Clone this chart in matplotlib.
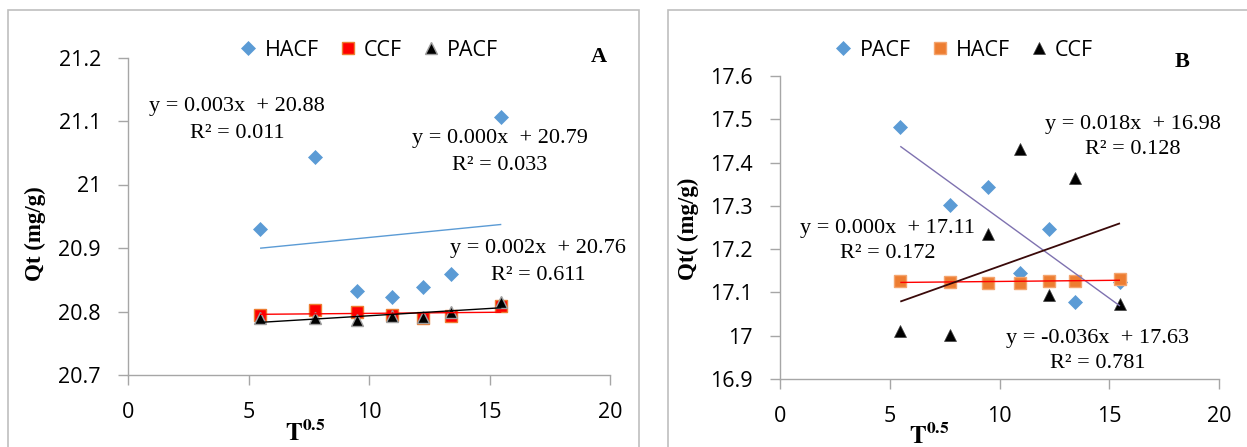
import numpy as np
import matplotlib
matplotlib.use("Agg")
import matplotlib.pyplot as plt
from matplotlib.patches import Rectangle

plt.rcParams['mathtext.fontset'] = 'stix'

# ---------------- data ----------------
x_vals = [5.48, 7.75, 9.49, 10.95, 12.25, 13.42, 15.49]

# Panel A
a_hacf = [20.930, 21.044, 20.833, 20.823, 20.839, 20.859, 21.106]
a_ccf = [20.794, 20.803, 20.800, 20.794, 20.789, 20.793, 20.808]
a_pacf = [20.789, 20.789, 20.787, 20.793, 20.791, 20.800, 20.815]

# Panel B
b_pacf = [17.483, 17.301, 17.343, 17.145, 17.246, 17.078, 17.123]
b_hacf = [17.127, 17.125, 17.121, 17.121, 17.127, 17.127, 17.132]
b_ccf = [17.010, 17.002, 17.235, 17.432, 17.093, 17.365, 17.074]

a_yticks = [20.7, 20.8, 20.9, 21.0, 21.1, 21.2]
a_yticklabels = ["20.7", "20.8", "20.9", "21", "21.1", "21.2"]
b_yticks = [16.9, 17.0, 17.1, 17.2, 17.3, 17.4, 17.5, 17.6]
b_yticklabels = ["16.9", "17", "17.1", "17.2", "17.3", "17.4", "17.5", "17.6"]
xticks = [0, 5, 10, 15, 20]

a_eqs = [("y = 0.003x  + 20.88\nR\u00b2 = 0.011", 237, 120),
         ("y = 0.000x  + 20.79\nR\u00b2 = 0.033", 500, 152),
         ("y = 0.002x  + 20.76\nR\u00b2 = 0.611", 538, 262)]
b_eqs = [("y = 0.018x  + 16.98\nR\u00b2 = 0.128", 1133, 137),
         ("y = 0.000x  + 17.11\nR\u00b2 = 0.172", 888, 241),
         ("y = -0.036x  + 17.63\nR\u00b2 = 0.781", 1098, 351)]

# ---------------- style ----------------
W, H = 1247, 447
BLUE = '#5B9BD5'
ORANGE = '#ED7D31'
RED = '#FF0000'
GRAY = '#A6A6A6'
SANS = 'Open Sans'
SERIF = 'Liberation Serif'

fig = plt.figure(figsize=(W / 100, H / 100), dpi=100)
fig.patch.set_facecolor('white')

def fx(px):
    return px / W

def fy(py):
    return 1 - py / H

# chart-area borders
fig.patches.append(Rectangle((fx(7.5), fy(460)), fx(639) - fx(7.5), fy(10.5) - fy(460),
                             transform=fig.transFigure, fill=False, ec='#BFBFBF', lw=1.2))
fig.patches.append(Rectangle((fx(668), fy(460)), fx(1260) - fx(668), fy(10.5) - fy(460),
                             transform=fig.transFigure, fill=False, ec='#BFBFBF', lw=1.2))

axA = fig.add_axes([fx(128), fy(375), fx(610) - fx(128), fy(57.5) - fy(375)])
axB = fig.add_axes([fx(780), fy(379), fx(1219) - fx(780), fy(76) - fy(379)])

def style_axis(ax, yticks, yticklabels):
    ax.set_xlim(0, 20)
    ax.set_ylim(yticks[0], yticks[-1])
    ax.set_xticks(xticks)
    ax.set_xticklabels([str(t) for t in xticks])
    ax.set_yticks(yticks)
    ax.set_yticklabels(yticklabels)
    for s in ['top', 'right']:
        ax.spines[s].set_visible(False)
    for s in ['left', 'bottom']:
        ax.spines[s].set_color(GRAY)
        ax.spines[s].set_linewidth(1.0)
    ax.tick_params(axis='both', direction='out', length=7.5, width=1.0, color=GRAY,
                   labelsize=15.5, labelcolor='black')
    ax.tick_params(axis='x', pad=12)
    ax.tick_params(axis='y', pad=12)
    for lab in ax.get_xticklabels() + ax.get_yticklabels():
        lab.set_fontfamily(SANS)
    ax.set_facecolor('none')
    ax.patch.set_alpha(0)

def trend(ax, xs, ys, color, lw=1.0):
    xs = np.asarray(xs)
    k, b = np.polyfit(xs, np.asarray(ys), 1)
    xx = np.array([xs.min(), xs.max()])
    ax.plot(xx, k * xx + b, color=color, lw=lw, zorder=5, solid_capstyle='butt')

# ---------------- panel A ----------------
style_axis(axA, a_yticks, a_yticklabels)
hA1, = axA.plot(x_vals, a_hacf, 'D', ms=7, color=BLUE, mec=BLUE, mew=0.5, ls='none', zorder=3, label='HACF')
hA2, = axA.plot(x_vals, a_ccf, 's', ms=9, color=RED, mec=ORANGE, mew=1.0, ls='none', zorder=3, label='CCF')
hA3, = axA.plot(x_vals, a_pacf, '^', ms=9, color='black', mec='#A0A0A0', mew=1.0, ls='none', zorder=4, label='PACF')
trend(axA, x_vals, a_hacf, BLUE, 1.0)
trend(axA, x_vals, a_ccf, RED, 1.0)
trend(axA, x_vals, a_pacf, 'black', 1.0)

# ---------------- panel B ----------------
style_axis(axB, b_yticks, b_yticklabels)
hB1, = axB.plot(x_vals, b_pacf, 'D', ms=7, color=BLUE, mec=BLUE, mew=0.5, ls='none', zorder=3, label='PACF')
hB2, = axB.plot(x_vals, b_hacf, 's', ms=9, color=ORANGE, mec='#F4A46E', mew=1.0, ls='none', zorder=3, label='HACF')
hB3, = axB.plot(x_vals, b_ccf, '^', ms=9, color='black', mec='#404040', mew=0.5, ls='none', zorder=4, label='CCF')
trend(axB, x_vals, b_pacf, '#7F72B0', 1.0)
trend(axB, x_vals, b_hacf, RED, 1.0)
trend(axB, x_vals, b_ccf, '#3A0A0A', 1.3)

# legends
def make_legend(handles, cx, cy):
    leg = fig.legend(handles=handles, loc='center', bbox_to_anchor=(fx(cx), fy(cy)),
                     ncol=3, frameon=False, handlelength=0.8, handletextpad=0.35,
                     columnspacing=0.95, borderpad=0.0,
                     prop={'family': SANS, 'size': 15.5})
    return leg

make_legend([hA1, hA2, hA3], 369, 50)
make_legend([hB1, hB2, hB3], 964, 50)

# equations
for txt, cx, cy in a_eqs + b_eqs:
    fig.text(fx(cx), fy(cy), txt, ha='center', va='center', family=SERIF, fontsize=16,
             linespacing=1.5)

# panel letters
fig.text(fx(599), fy(57), 'A', ha='center', va='center', family=SERIF, fontsize=16, weight='bold')
fig.text(fx(1182), fy(62), 'B', ha='center', va='center', family=SERIF, fontsize=16, weight='bold')

# axis titles
fig.text(fx(35), fy(234), 'Qt (mg/g)', rotation=90, ha='center', va='center',
         family=SERIF, fontsize=16.5, weight='bold')
fig.text(fx(688), fy(229), 'Qt( (mg/g)', rotation=90, ha='center', va='center',
         family=SERIF, fontsize=16.5, weight='bold')
fig.text(fx(305), fy(433), r'$\mathbf{T^{0.5}}$', ha='center', va='center', fontsize=18)
fig.text(fx(929), fy(436), r'$\mathbf{T^{0.5}}$', ha='center', va='center', fontsize=18)

fig.savefig('out.png', dpi=100, facecolor='white')
